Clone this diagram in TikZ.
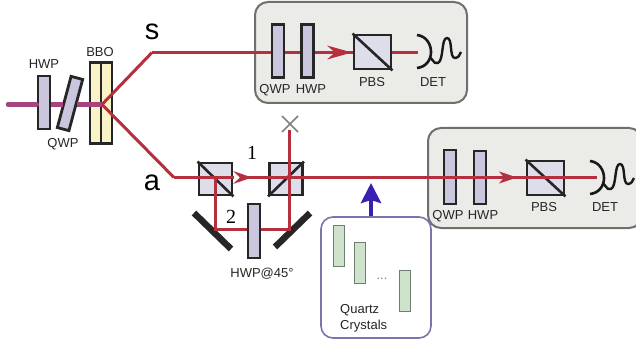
\documentclass[tikz,border=0pt]{standalone}
\usepackage{fontspec}
\setmainfont{Liberation Sans}
\newfontfamily\serifnum{Liberation Serif}
\usetikzlibrary{arrows.meta}
\definecolor{beamred}{HTML}{B5303F}
\definecolor{pump}{HTML}{A5447F}
\definecolor{plate}{HTML}{C9C6DE}
\definecolor{cube}{HTML}{DEDDEA}
\definecolor{panel}{HTML}{EBEBE8}
\definecolor{panelline}{HTML}{6E706E}
\definecolor{crystal}{HTML}{CFE2CC}
\definecolor{crystalline}{HTML}{6E7F70}
\definecolor{bbofill}{HTML}{FBF3C8}
\definecolor{qline}{HTML}{7D74AE}
\definecolor{uvblue}{HTML}{3A1FB0}
\tikzset{
  x=1pt,y=-1pt,
  lab/.style={font=\fontsize{13}{14}\selectfont,text=black!85,inner sep=0pt,text height=9.5pt,text depth=0pt},
  biglab/.style={font=\fontsize{29}{30}\selectfont,inner sep=0pt},
  numlab/.style={font=\serifnum\fontsize{20}{20}\selectfont,inner sep=0pt},
  platebox/.style={draw=black!85,line width=2.8pt,fill=plate,inner sep=0pt,minimum width=12pt,minimum height=#1},
  cubebox/.style={draw=black!85,line width=2.8pt,fill=cube,inner sep=0pt,minimum width=#1,minimum height=34pt},
  bbobox/.style={draw=black!85,line width=2.6pt,fill=bbofill,inner sep=0pt,minimum width=11pt,minimum height=81pt},
  qbox/.style={draw=crystalline,line width=1.3pt,fill=crystal,inner sep=0pt,minimum width=11pt,minimum height=41pt},
  panelbox/.style={draw=panelline,line width=2pt,fill=panel,rounded corners=13pt},
  beam/.style={draw=beamred,line width=3pt},
  pumpbeam/.style={draw=pump,line width=4.5pt},
  mirror/.style={draw=black!85,line width=6.5pt},
  detector/.pic={
    \draw[black!90,line width=2.6pt]
      (-1,-17) .. controls (8,-16) and (13,-8) .. (13,0)
      .. controls (13,8) and (8,15) .. (-1,16);
    \draw[black!90,line width=2.4pt]
      (11,6) .. controls (14,4) and (15,13) .. (20,11)
      .. controls (26,8) and (23,-14) .. (29,-14)
      .. controls (35,-14) and (31,6) .. (37,6)
      .. controls (40,6) and (42,3) .. (43,0);
  }
}
\begin{document}
\begin{tikzpicture}
\useasboundingbox (0,0) rectangle (636,347);
\clip (0,0) rectangle (636,347);
\fill[white] (0,0) rectangle (636,347);

% panels
\node[panelbox,minimum width=212pt,minimum height=101pt,inner sep=0pt] (panelS) at (361,52.5) {};
\node[panelbox,minimum width=214pt,minimum height=100pt,inner sep=0pt] (panelA) at (535,178) {};

% source optics
\coordinate (start) at (8,104.5);
\coordinate (cross) at (102,104.5);
\coordinate (bendS) at (152,52.5);
\coordinate (bendA) at (174,177.5);
\node[platebox=53pt] (hwp0) at (44,102.5) {};
\node[platebox=53pt,rotate=-15] (qwp1) at (70,103.5) {};
\draw[pumpbeam,line cap=round] (start) -- (hwp0.west |- start);
\draw[pumpbeam] (hwp0.east |- start) -- (qwp1.west |- start);
\node[bbobox] (bboL) at (95.5,103) {};
\node[bbobox] (bboR) at (106.5,103) {};
\draw[pumpbeam] (qwp1.east |- start) -- (cross);
\draw[beam] (cross) -- (bendS);
\draw[beam] (cross) -- (bendA);

% s arm
\node[platebox=53pt] (qwpS) at (278,51) {};
\node[platebox=53pt] (hwpS) at (307.5,51) {};
\node[cubebox=37pt] (pbsS) at (372.5,52) {};
\coordinate (detS) at (418,52);
\draw[beam] (bendS) -- (qwpS.west |- bendS);
\draw[beam] (qwpS.east |- bendS) -- (hwpS.west |- bendS);
\draw[beam] (hwpS.east |- bendS) -- (pbsS.west |- bendS);
\draw[beam] (pbsS.east |- bendS) -- (detS |- bendS);
\fill[beamred] (352,52.5) -- (327,45.5) -- (335,52.5) -- (327,59.5) -- cycle;
\draw[black!85,line width=2.6pt] (pbsS.north west) -- (pbsS.south east);
\pic at (detS) {detector};

% interferometer
\node[cubebox=33pt,minimum height=32pt] (bs1) at (215.5,179) {};
\node[cubebox=33pt,minimum height=32pt] (bs2) at (286,179) {};
\draw[black!85,line width=2.6pt] (bs1.north west) -- (bs1.south east);
\draw[black!85,line width=2.6pt] (bs2.south west) -- (bs2.north east);
\coordinate (m1) at (215,229);
\coordinate (m2) at (289,229);
\coordinate (top) at (289,130);
\coordinate (split) at (215,177.5);
\coordinate (join) at (289,177.5);
\coordinate (det) at (597,177.5);
\coordinate (ml1) at (194,213);
\coordinate (ml2) at (231,249);
\coordinate (mr1) at (275,247);
\coordinate (mr2) at (310,213);
\draw[mirror] (ml1) -- (ml2);
\draw[mirror] (mr1) -- (mr2);
\draw[beam] (split) -- (m1) -- (m2) -- (top);
\node[platebox=54pt] (hwp45) at (254,231) {};
\draw[beam] (bendA) -- (split) -- (join);

% a arm panel optics, main beam runs over them
\node[platebox=54pt] (qwpA) at (450,177) {};
\node[platebox=53pt] (hwpA) at (480,177.5) {};
\node[cubebox=37pt,minimum height=34pt] (pbsA) at (545.5,178) {};
\draw[black!85,line width=2.6pt] (pbsA.north west) -- (pbsA.south east);
\draw[beam] (join) -- (det);
\fill[white] (234,172) -- (246,177) -- (234,182) -- cycle;
\fill[beamred] (252,177.5) -- (233,171) -- (240,177.5) -- (233,184) -- cycle;
\fill[beamred] (517,177.5) -- (499,171.5) -- (504,177.5) -- (499,183.5) -- cycle;
\pic at (591,178) {detector};

% blocked port
\draw[gray,line width=1.6pt] (282,116) -- (298,132);
\draw[gray,line width=1.6pt] (298,116) -- (282,132);

% quartz unit
\node[draw=qline,line width=1.6pt,fill=white,rounded corners=12pt,inner sep=0pt,minimum width=110pt,minimum height=121pt] (qbox) at (376,277.5) {};
\node[qbox] (q1) at (339.3,246) {};
\node[qbox] (q2) at (360,263) {};
\node[qbox] (q3) at (405,291) {};
\coordinate (uvtip) at (371,183);
\draw[uvblue,line width=4.5pt,-{Triangle[length=20pt,width=20pt,inset=3pt]}] (qbox.north -| uvtip) -- (uvtip);
\node[font=\fontsize{13}{13}\selectfont,text=gray,inner sep=0pt] (dots) at (382,279) {...};
\node[lab,anchor=west] (quartz) at (340,309) {Quartz};
\node[lab,anchor=west] (crystals) at (340,325) {Crystals};

% labels
\node[biglab] (ls) at (152,32) {s};
\node[biglab] (la) at (152,183) {a};
\node[lab] (tHWP) at (44,64) {HWP};
\node[lab] (tQWP) at (63,143) {QWP};
\node[lab] (tBBO) at (100,52) {BBO};
\node[lab] (tQ1) at (275,89) {QWP};
\node[lab] (tH1) at (311,89) {HWP};
\node[lab] (tP1) at (372,82) {PBS};
\node[lab] (tD1) at (433,82) {DET};
\node[lab] (tQ2) at (448,215) {QWP};
\node[lab] (tH2) at (483,215) {HWP};
\node[lab] (tP2) at (544,207) {PBS};
\node[lab] (tD2) at (605,207) {DET};
\node[lab] (tHW) at (262,273) {HWP@45°};
\node[numlab] (n1) at (252,153) {1};
\node[numlab] (n2) at (231,217) {2};
\end{tikzpicture}
\end{document}
